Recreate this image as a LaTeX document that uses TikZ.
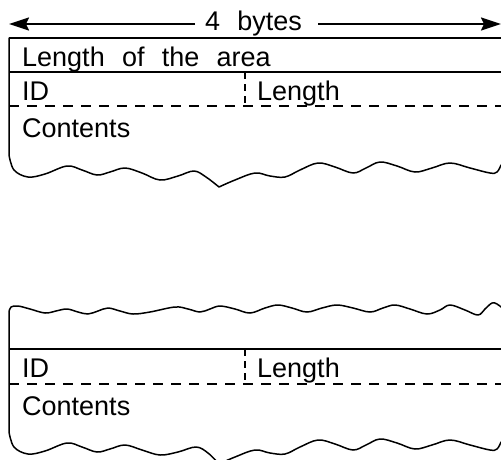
\documentclass[tikz,border=0pt]{standalone}
\usepackage{fontspec}
\setmainfont{Liberation Sans}[WordSpace=2.3]
\usetikzlibrary{arrows.meta}
\begin{document}
\begin{tikzpicture}[x=1pt,y=-1pt,
  solidrule/.style={line width=1.8pt},
  edgeline/.style={line width=1.5pt, line join=round, line cap=round},
  dashrule/.style={line width=1.6pt, dash pattern=on 10pt off 8pt},
  divider/.style={line width=1.4pt, dash pattern=on 7pt off 5pt},
  field/.style={anchor=base west, inner sep=0pt, font=\fontsize{27}{30}\selectfont},
  dimarrow/.style={line width=1.8pt, -{Stealth[length=20pt,width=13pt,inset=3pt]}}]
\useasboundingbox (0,0) rectangle (501,459);
\clip (0,0) rectangle (501,459);

% width dimension
\node[field] (bytes) at (205,30) {4 bytes};
\coordinate (dimL) at (195,24);
\coordinate (dimR) at (318,24);
\coordinate (tipL) at (9,24);
\coordinate (tipR) at (501,24);
\draw[dimarrow] (dimL) -- (tipL);
\draw[dimarrow] (dimR) -- (tipR);

% ---- first area ----
\draw[solidrule] (9,38) -- (501,38);
\draw[solidrule] (9,72) -- (501,72);
\draw[dashrule] (9,106) -- (501,106);
\draw[divider] (245,72) -- (245,106);
\draw[edgeline] (9,38) -- (9,155) -- plot[smooth, tension=0.6] coordinates {
  (9,155) (14,170) (28,177) (45,174) (67,166) (82,170) (97,175) (110,172)
  (125,168) (142,173) (160,180) (178,176) (194,171) (206,177) (219,187)}
  -- plot[smooth, tension=0.6] coordinates {
  (219,187) (235,180) (255,173) (270,176) (285,177) (300,170) (318,163)
  (335,167) (353,173) (366,168) (380,162) (397,166) (415,172) (432,168)
  (450,163) (470,168) (490,173) (497,172) (501,165)};

\node[field] (lenA) at (22,66) {Length of the area};
\node[field] (idA) at (22,100) {ID};
\node[field] (lenfA) at (257,100) {Length};
\node[field] (contA) at (22,137) {Contents};

% ---- second area ----
\draw[solidrule] (9,349) -- (501,349);
\draw[dashrule] (9,384) -- (501,384);
\draw[divider] (245,349) -- (245,384);
\draw[edgeline] plot[smooth, tension=0.6] coordinates {
  (501,307) (497,304) (492,303) (485,309) (478,315) (465,310) (450,305)
  (440,310) (427,314) (410,309) (395,305) (383,308) (370,312) (353,308)
  (337,305) (322,308) (307,312) (292,308) (278,305) (265,308) (250,313)
  (235,309) (220,306) (210,309) (200,312) (188,309) (175,307) (150,312)
  (133,314) (120,311) (108,308) (98,311) (88,314) (78,312) (67,309)
  (56,311) (45,313) (30,309) (18,306) (11,307) (9,312)}
  -- (9,432) -- plot[smooth, tension=0.6] coordinates {
  (9,432) (14,447) (28,454) (45,451) (67,443) (82,447) (97,452) (110,449)
  (125,445) (142,450) (160,455) (178,452) (196,447) (208,453) (219,464)}
  -- plot[smooth, tension=0.6] coordinates {
  (219,464) (235,457) (255,450) (270,453) (285,454) (300,447) (318,440)
  (335,444) (353,450) (366,445) (380,439) (397,443) (415,449) (432,445)
  (450,440) (470,445) (490,450) (497,449) (501,442)};

\node[field] (idB) at (22,377) {ID};
\node[field] (lenfB) at (257,377) {Length};
\node[field] (contB) at (22,415) {Contents};
\end{tikzpicture}
\end{document}
